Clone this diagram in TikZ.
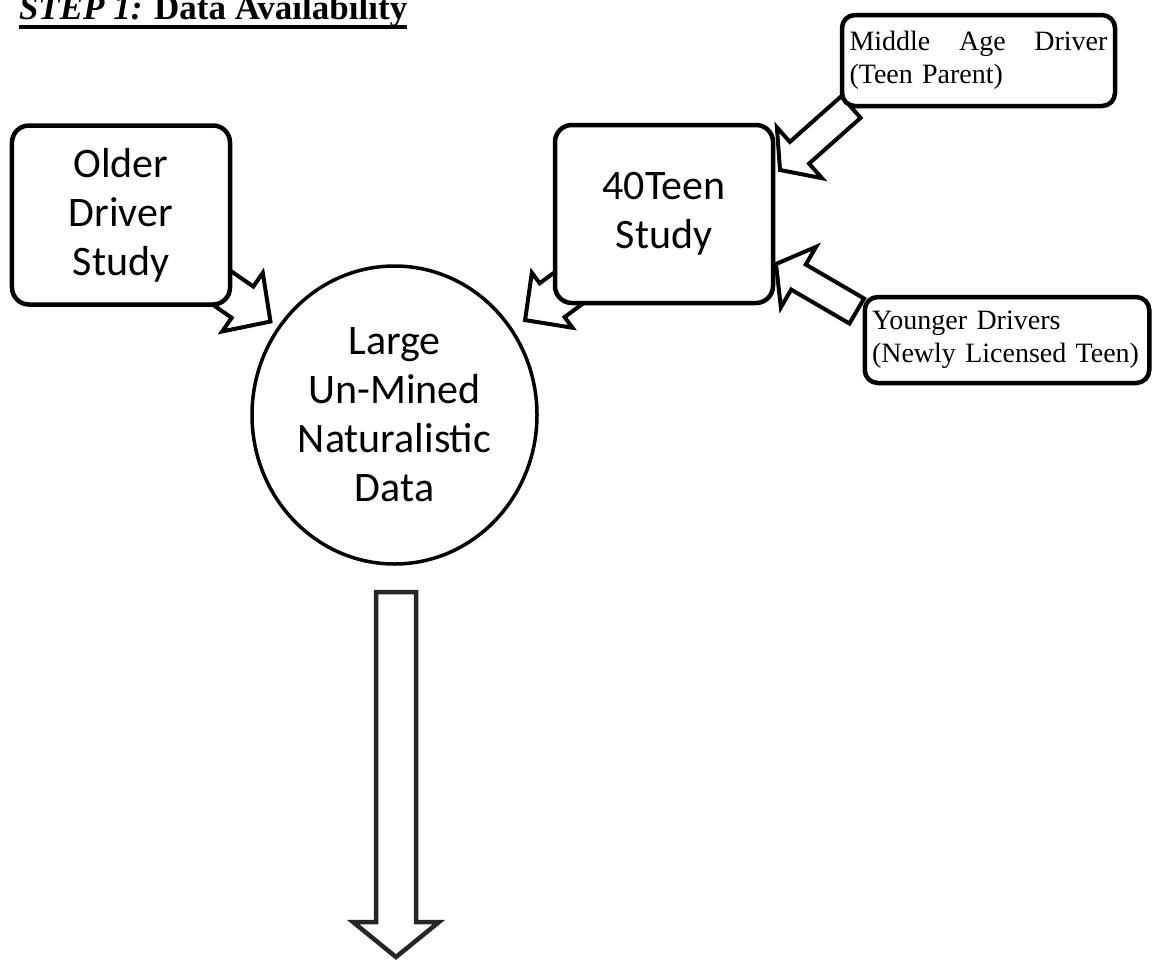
\documentclass[tikz,border=0pt]{standalone}
\usepackage{fontspec}
\setmainfont{Liberation Serif}
\newfontfamily\calibrifont{Carlito}
\usetikzlibrary{calc,shapes.geometric}
\pgfdeclarelayer{background}
\pgfsetlayers{background,main}
% #1 style, #2 name, #3 start, #4 tip, #5 shaft half width, #6 head half width, #7 head length
\newcommand{\blockarrow}[7]{%
  \coordinate (#2-h) at ($(#4)!#7!(#3)$);
  \draw[#1] ($(#3)!#5!90:(#4)$) -- ($(#2-h)!#5!90:(#4)$) -- ($(#2-h)!#6!90:(#4)$) -- (#4)
    -- ($(#2-h)!#6!-90:(#4)$) -- ($(#2-h)!#5!-90:(#4)$) -- ($(#3)!#5!-90:(#4)$) -- cycle;
}
\begin{document}
\begin{tikzpicture}[x=1bp,y=-1bp,
  bigbox/.style={draw=black, line width=4.5bp, fill=white, rounded corners=17bp,
    minimum width=218bp, minimum height=179bp, inner sep=0pt, outer sep=0pt,
    align=center, font=\calibrifont\fontsize{42bp}{49bp}\selectfont},
  bigcircle/.style={draw=black, ellipse, line width=3.5bp, fill=white,
    minimum width=285bp, minimum height=298bp, inner sep=0pt, outer sep=0pt,
    align=center, font=\calibrifont\fontsize{42bp}{49bp}\selectfont},
  smallbox/.style={draw=black, line width=4.5bp, fill=white, rounded corners=13bp,
    inner sep=0pt, outer sep=0pt, align=left, font=\fontsize{28bp}{33bp}\selectfont},
  blockarr/.style={draw=black, line width=4bp, fill=white, line join=miter, miter limit=10},
  downarr/.style={draw=black!85, line width=4.5bp, fill=white, line join=miter, miter limit=10}
]
\useasboundingbox (0,0) rectangle (1152,962);

% title
\node[inner sep=0pt, outer sep=0pt, anchor=base west,
      font=\bfseries\fontsize{35bp}{42bp}\selectfont] (title) at (19,19)
      {\textit{STEP 1:} Data Availability};
\draw[line width=4bp] ([yshift=-8.2bp]title.base west) -- ([yshift=-8.2bp]title.base east);

% nodes
\node[bigbox] (older) at (121,215) {Older\\Driver\\Study};
\node[bigbox, minimum height=178bp] (teen) at (664,214) {40Teen\\Study};
\node[bigcircle] (big) at (394.5,415) {Large\\Un-Mined\\Naturalistic\\Data};
\node[smallbox, minimum width=273bp, minimum height=91bp, text width=258bp] (middle)
  at (978.5,60.5) {Middle\hfill Age\hfill Driver\\(Teen Parent)};
\node[smallbox, minimum width=284.5bp, minimum height=86bp, text width=270bp] (younger)
  at (1007,340) {Younger Drivers\\(Newly Licensed Teen)};

% block arrows (behind the nodes)
\begin{pgfonlayer}{background}
  \coordinate (oa-s) at ([shift={(-26,-29)}]older.south east);
  \coordinate (oa-t) at ($(big.center)!1.073!(big.143)$);
  \blockarrow{blockarr}{oa}{oa-s}{oa-t}{19bp}{35.6bp}{34bp}

  \coordinate (ta-s) at ([shift={(34,-30)}]teen.south west);
  \coordinate (ta-t) at ($(big.center)!1.116!(big.36)$);
  \blockarrow{blockarr}{ta}{ta-s}{ta-t}{21bp}{34.2bp}{33.6bp}

  \coordinate (ma-s) at ([shift={(9,1)}]middle.south west);
  \coordinate (ma-t) at ([shift={(7,45)}]teen.north east);
  \blockarrow{blockarr}{ma}{ma-s}{ma-t}{14.5bp}{34bp}{26bp}

  \coordinate (ya-s) at ([shift={(-8,14)}]younger.north west);
  \coordinate (ya-t) at ([shift={(3,-39)}]teen.south east);
  \blockarrow{blockarr}{ya}{ya-s}{ya-t}{14.5bp}{35bp}{26bp}

  \coordinate (da-s) at ([shift={(1.5,28)}]big.south);
  \coordinate (da-t) at ([shift={(1.5,393)}]big.south);
  \blockarrow{downarr}{da}{da-s}{da-t}{20bp}{43bp}{35bp}
\end{pgfonlayer}
\end{tikzpicture}
\end{document}
